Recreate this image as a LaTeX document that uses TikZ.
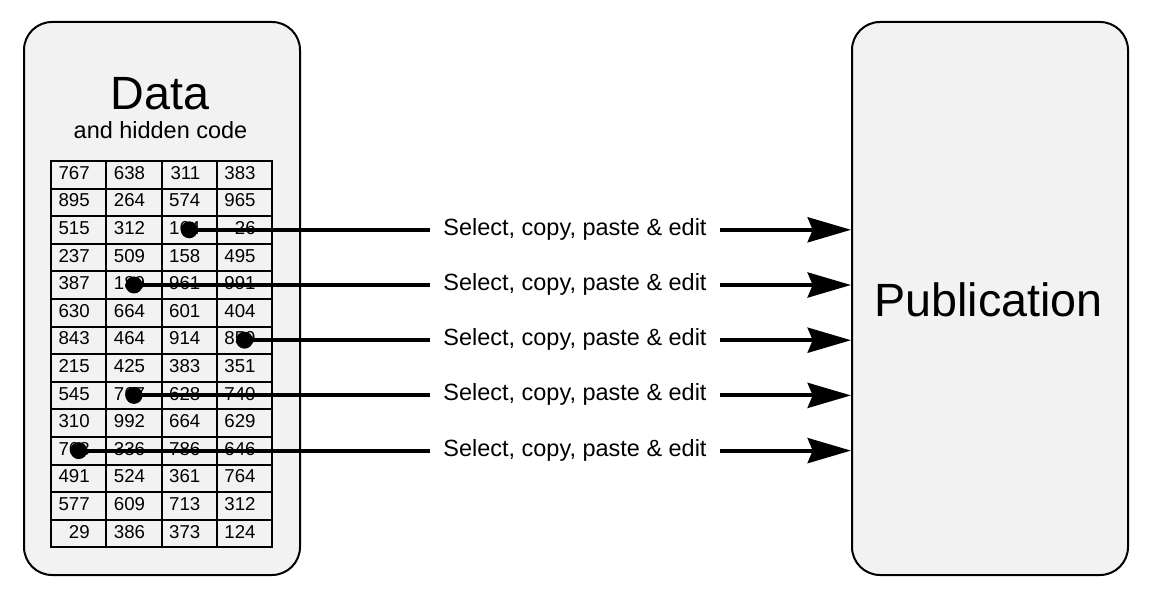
\documentclass[tikz,border=0pt]{standalone}
\usepackage{fontspec}
\setmainfont{Liberation Sans}
\usetikzlibrary{arrows.meta}
\definecolor{boxfill}{HTML}{F2F2F2}
\begin{document}
\begin{tikzpicture}[x=0.75pt,y=-0.75pt,
  panel/.style={draw, line width=1.5pt, fill=boxfill, rounded corners=21pt, minimum width=207pt, minimum height=414.75pt, inner sep=0pt},
  bigtitle/.style={font=\fontsize{35}{40}\selectfont, inner sep=0pt, anchor=base},
  subtitle/.style={font=\fontsize{17.6}{20}\selectfont, inner sep=0pt, anchor=base},
  cell/.style={font=\fontsize{14}{16}\selectfont, inner sep=0pt, anchor=base east},
  gridline/.style={line width=1.5pt},
  dot/.style={circle, fill=black, minimum size=12.75pt, inner sep=0pt},
  wire/.style={line width=3pt},
  flow/.style={line width=3pt, -{Stealth[length=32.5pt, width=18.75pt, inset=3.75pt]}},
  action/.style={font=\fontsize{17.6}{20}\selectfont, inner xsep=10pt, inner ysep=0pt, anchor=base}
]
\useasboundingbox (0,0) rectangle (1152,598);
\node[panel] (data) at (162,298.5) {};
\node[panel] (pub) at (990,298.5) {};
\node[bigtitle] (datatitle) at (160,109.3) {Data};
\node[subtitle] (datasub) at (160.5,138.3) {and hidden code};
\node[bigtitle] (pubtitle) at (988.5,317) {Publication};

% table grid
\draw[gridline] (51,161) rectangle (272.2,547.4);
\foreach \i in {1,...,13} \draw[gridline] (51,161+27.6*\i) -- (272.2,161+27.6*\i);
\foreach \x in {106.3,161.6,216.9} \draw[gridline] (\x,161) -- (\x,547.4);

% table values
\foreach \r/\a/\b/\c/\d in {1/767/638/311/383, 2/895/264/574/965, 3/515/312/164/26,
  4/237/509/158/495, 5/387/189/961/991, 6/630/664/601/404, 7/843/464/914/859,
  8/215/425/383/351, 9/545/767/628/740, 10/310/992/664/629, 11/768/336/786/646,
  12/491/524/361/764, 13/577/609/713/312, 14/29/386/373/124}
{
  \node[cell] (c\r-1) at (90,161+27.6*\r-9.3) {\a};
  \node[cell] (c\r-2) at (145.3,161+27.6*\r-9.3) {\b};
  \node[cell] (c\r-3) at (200.6,161+27.6*\r-9.3) {\c};
  \node[cell] (c\r-4) at (255.9,161+27.6*\r-9.3) {\d};
}

% hidden code dots
\node[dot] (d1) at (189.25,229.8) {};
\node[dot] (d2) at (134,285) {};
\node[dot] (d3) at (244.5,340.2) {};
\node[dot] (d4) at (134,395.4) {};
\node[dot] (d5) at (78.7,450.6) {};

% labels
\node[action] (l1) at (575,235.3) {Select, copy, paste \& edit};
\node[action] (l2) at (575,290.5) {Select, copy, paste \& edit};
\node[action] (l3) at (575,345.7) {Select, copy, paste \& edit};
\node[action] (l4) at (575,400.9) {Select, copy, paste \& edit};
\node[action] (l5) at (575,456.1) {Select, copy, paste \& edit};

\foreach \k in {1,...,5} {
  \draw[wire] (d\k.center) -- (d\k.center -| l\k.west);
  \draw[flow] (d\k.center -| l\k.east) -- (d\k.center -| pub.west);
}
\end{tikzpicture}
\end{document}
